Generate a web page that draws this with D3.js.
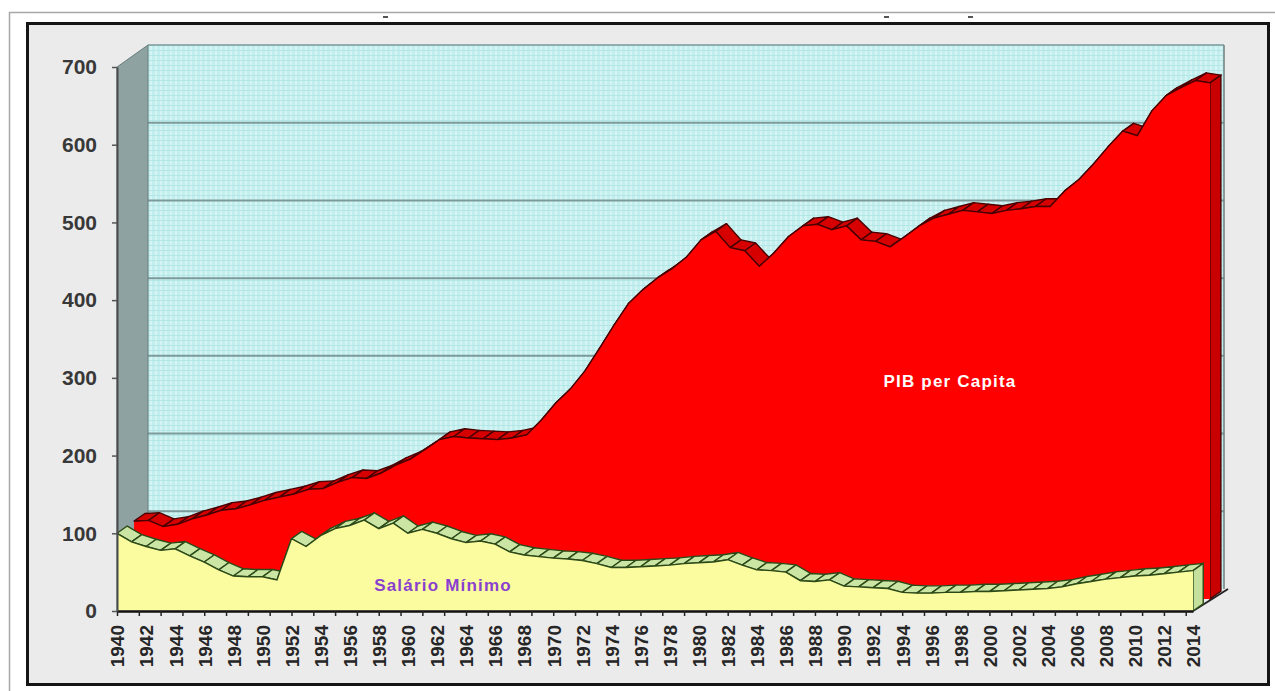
<!DOCTYPE html>
<html>
<head>
<meta charset="utf-8">
<script src="https://cdn.jsdelivr.net/npm/d3@7"></script>
<style>
  body { margin: 0; background: #ffffff; }
  svg { display: block; }
  text { font-family: "Liberation Sans", Arial, sans-serif; font-weight: bold; }
</style>
</head>
<body>
<svg id="chart" width="1275" height="691"></svg>
<script>
// Categories: one per year
const years = d3.range(1940, 2015);

// Índice 1940 = 100
const pibPerCapita = [
  100, 101, 93, 96, 103, 108, 114, 116, 121, 127,
  131, 135, 141, 142, 150, 156, 155, 162, 172, 180,
  192, 205, 209, 207, 206, 205, 207, 211, 230, 252,
  270, 293, 322, 352, 380, 398, 413, 425, 440, 462,
  473, 452, 448, 428, 445, 466, 480, 482, 475, 480,
  462, 460, 453, 466, 480, 490, 495, 500, 498, 496,
  500, 502, 505, 505, 525, 540, 560, 582, 602, 596,
  628, 648, 658, 667, 664
];
const salarioMinimo = [
  100, 89, 83, 78, 80, 71, 63, 53, 45, 44,
  44, 40, 93, 83, 97, 106, 110, 117, 106, 113,
  100, 105, 100, 93, 88, 90, 86, 76, 72, 70,
  68, 67, 65, 61, 56, 56, 57, 58, 59, 61,
  62, 63, 66, 59, 53, 52, 50, 39, 38, 40,
  32, 31, 30, 29, 24, 23, 23, 24, 24, 25,
  25, 26, 27, 28, 29, 31, 35, 38, 41, 43,
  45, 46, 48, 50, 52
];

const yTickValues = [0, 100, 200, 300, 400, 500, 600, 700];
const xLabelYears = years.filter(y => y % 2 === 0);
const xTickYears = d3.range(0, 50).map(k => 1940 + 1.5 * k);

const seriesLabels = { pib: "PIB per Capita", salario: "Salário Mínimo" };

const svg = d3.select("#chart");

// Page frame
svg.append("rect").attr("x", 9.5).attr("y", 12.5).attr("width", 1280).attr("height", 700)
  .attr("fill", "#ffffff").attr("stroke", "#a8a8a8").attr("stroke-width", 1.5);
svg.append("rect").attr("x", 27.5).attr("y", 23.5).attr("width", 1241).attr("height", 661)
  .attr("fill", "#ebebeb").attr("stroke", "#151515").attr("stroke-width", 3);

// small marks along the top edge
[[383, 16], [884, 16], [968, 16]].forEach(([x, y]) => {
  svg.append("rect").attr("x", x).attr("y", y).attr("width", 5).attr("height", 2).attr("fill", "#555");
});

// Scales and oblique depth projection
const xScale = d3.scaleLinear().domain([1940, 2014]).range([117, 1193]);
const yScale = d3.scaleLinear().domain([0, 700]).range([611, 67]);
const depth = { x: 31, y: -22 };
const px = (yr, z) => xScale(yr) + z * depth.x;
const py = (v, z) => yScale(v) + z * depth.y;

// Back wall pattern
const defs = svg.append("defs");
const pat = defs.append("pattern").attr("id", "wallGrid").attr("patternUnits", "userSpaceOnUse")
  .attr("width", 5).attr("height", 5);
pat.append("rect").attr("width", 5).attr("height", 5).attr("fill", "#c2eeee");
pat.append("rect").attr("x", 0).attr("y", 0).attr("width", 2).attr("height", 5).attr("fill", "#d6f4f4");
pat.append("rect").attr("x", 0).attr("y", 0).attr("width", 5).attr("height", 1).attr("fill", "#b3e6e6");

const plot = svg.append("g");

const wallX0 = px(1940, 1), wallX1 = px(2014, 1);
const wallY0 = py(700, 1), wallY1 = py(0, 1);
plot.append("rect").attr("x", wallX0).attr("y", wallY0)
  .attr("width", wallX1 - wallX0).attr("height", wallY1 - wallY0)
  .attr("fill", "url(#wallGrid)");

// gridlines on the back wall
plot.append("g").selectAll("line").data(yTickValues.filter(v => v > 0)).join("line")
  .attr("x1", wallX0).attr("x2", wallX1)
  .attr("y1", d => py(d, 1)).attr("y2", d => py(d, 1))
  .attr("stroke", "#7d9a9a").attr("stroke-width", d => d === 700 ? 1.5 : 2);
plot.append("line").attr("x1", wallX1).attr("x2", wallX1).attr("y1", wallY0).attr("y2", wallY1)
  .attr("stroke", "#6f7f7f").attr("stroke-width", 1.5);

// Left side wall
const poly = d3.line();
plot.append("path")
  .attr("d", poly([[px(1940, 0), py(700, 0)], [px(1940, 1), py(700, 1)], [px(1940, 1), py(0, 1)], [px(1940, 0), py(0, 0)]]) + "Z")
  .attr("fill", "#8ea2a2").attr("stroke", "#6a7c7c").attr("stroke-width", 1);

// Floor edge toward the back on the right
plot.append("line").attr("x1", px(2014, 0)).attr("y1", py(0, 0)).attr("x2", px(2014, 1) + 4).attr("y2", py(0, 1))
  .attr("stroke", "#222").attr("stroke-width", 2);

// 3D area slab
function drawSlab(values, z0, z1, st) {
  const pts = years.map((yr, i) => ({ yr, v: values[i] }));
  const g = plot.append("g");
  // top surface, drawn left to right
  for (let i = 0; i < pts.length - 1; i++) {
    const a = pts[i], b = pts[i + 1];
    g.append("path")
      .attr("d", poly([[px(a.yr, z0), py(a.v, z0)], [px(b.yr, z0), py(b.v, z0)],
                       [px(b.yr, z1), py(b.v, z1)], [px(a.yr, z1), py(a.v, z1)]]) + "Z")
      .attr("fill", st.top).attr("stroke", st.edge).attr("stroke-width", 1.4).attr("stroke-linejoin", "round");
  }
  // right end cap
  const last = pts[pts.length - 1];
  g.append("path")
    .attr("d", poly([[px(last.yr, z0), py(last.v, z0)], [px(last.yr, z1), py(last.v, z1)],
                     [px(last.yr, z1), py(0, z1)], [px(last.yr, z0), py(0, z0)]]) + "Z")
    .attr("fill", st.cap).attr("stroke", st.edge).attr("stroke-width", 1.4);
  // front face
  const area = d3.area().x(d => px(d.yr, z0)).y0(py(0, z0)).y1(d => py(d.v, z0));
  g.append("path").attr("d", area(pts)).attr("fill", st.front);
  // front edge outline
  const line = d3.line().x(d => px(d.yr, z0)).y(d => py(d.v, z0));
  g.append("path").attr("d", line(pts)).attr("fill", "none").attr("stroke", st.edge).attr("stroke-width", 1.4);
}

drawSlab(pibPerCapita, 0.55, 0.9, { front: "#ff0000", top: "#d60000", cap: "#c80000", edge: "#4a0000" });
drawSlab(salarioMinimo, 0, 0.33, { front: "#fbfb9f", top: "#cbe6a4", cap: "#c4e09c", edge: "#2c4a18" });

// X axis: tick marks
svg.append("g").attr("transform", `translate(0,${yScale(0)})`)
  .call(d3.axisBottom(xScale).tickValues(xTickYears).tickSize(5).tickSizeOuter(0).tickFormat(""))
  .call(g => g.select(".domain").attr("stroke", "#111").attr("stroke-width", 2.5))
  .call(g => g.selectAll(".tick line").attr("stroke", "#222").attr("stroke-width", 1.5));

// X axis: rotated year labels
svg.append("g").attr("transform", `translate(0,${yScale(0)})`)
  .call(d3.axisBottom(xScale).tickValues(xLabelYears).tickSize(0).tickFormat(d3.format("d")))
  .call(g => g.select(".domain").remove())
  .call(g => g.selectAll("text")
    .attr("transform", "rotate(-90)")
    .attr("x", -14).attr("y", 0).attr("dy", "0.36em")
    .style("text-anchor", "end")
    .attr("font-size", 19).attr("fill", "#262626")
    .attr("font-family", "'Liberation Sans', Arial, sans-serif").attr("font-weight", "bold"));

// Y axis
svg.append("g").attr("transform", `translate(${xScale(1940)},0)`)
  .call(d3.axisLeft(yScale).tickValues(yTickValues).tickSize(5).tickSizeOuter(0).tickPadding(15))
  .call(g => g.select(".domain").attr("stroke", "#4a4a4a").attr("stroke-width", 2))
  .call(g => g.selectAll(".tick line").attr("stroke", "#555").attr("stroke-width", 1.5))
  .call(g => g.selectAll("text")
    .attr("font-size", 21).attr("fill", "#383838")
    .attr("font-family", "'Liberation Sans', Arial, sans-serif").attr("font-weight", "bold"));

// Series labels
svg.append("text").attr("x", 950).attr("y", 387).attr("text-anchor", "middle")
  .attr("font-size", 17).attr("letter-spacing", 1.2).attr("fill", "#ffffff").text(seriesLabels.pib);
svg.append("text").attr("x", 443).attr("y", 591).attr("text-anchor", "middle")
  .attr("font-size", 17).attr("letter-spacing", 1.2).attr("fill", "#8a3fd0").text(seriesLabels.salario);
</script>
</body>
</html>
